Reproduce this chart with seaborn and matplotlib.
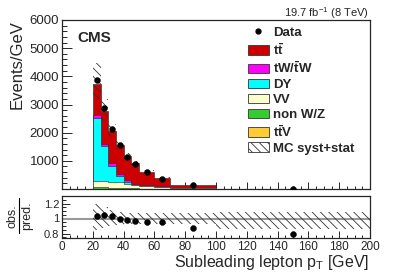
#!/usr/bin/env python3
import numpy as np
import pandas as pd
import matplotlib
matplotlib.use("Agg")
import matplotlib.pyplot as plt
from matplotlib.patches import Patch
from matplotlib.lines import Line2D
from matplotlib.ticker import MultipleLocator, FixedLocator
import seaborn as sns

sns.set_style("ticks")
plt.rcParams["font.family"] = ["Liberation Sans", "DejaVu Sans"]
plt.rcParams["mathtext.fontset"] = "custom"
plt.rcParams["mathtext.rm"] = "Liberation Sans"
plt.rcParams["mathtext.it"] = "Liberation Sans:italic"
plt.rcParams["mathtext.bf"] = "Liberation Sans:bold"
plt.rcParams["hatch.linewidth"] = 0.6

# bins of subleading lepton pT [GeV]
bin_edges = [20, 25, 30, 35, 40, 45, 50, 60, 70, 100, 200]

# predicted Events/GeV per bin (stack order: bottom -> top)
mc_ttv = [5, 5, 4, 4, 3, 3, 2, 2, 1, 0.1]
mc_nonwz = [60, 50, 40, 30, 25, 20, 15, 10, 4, 0.3]
mc_vv = [225, 220, 200, 200, 150, 105, 75, 58, 25, 1.0]
mc_dy = [2240, 1245, 585, 245, 82, 12, 8, 5, 2, 0.1]
mc_tw = [95, 80, 90, 70, 70, 50, 35, 25, 10, 0.5]
mc_tt = [1120, 1155, 1130, 1010, 845, 730, 485, 288, 103, 8]

# observed Events/GeV
data_obs = [3870, 2870, 2130, 1545, 1150, 890, 590, 372, 127, 7.9]

# MC syst+stat band, relative to prediction
band_up = [1.19, 1.16, 1.12, 1.09, 1.08, 1.08, 1.08, 1.08, 1.08, 1.09]
band_dn = [0.85, 0.87, 0.90, 0.92, 0.93, 0.93, 0.93, 0.93, 0.93, 0.86]

labels = [r"$\mathbf{t\bar{t}}$", r"$\mathbf{tW/\bar{t}W}$", "DY", "VV", "non W/Z", r"$\mathbf{t\bar{t}V}$"]
colors = ["#cc0000", "#ff00ff", "#00ffff", "#ffffcc", "#33cc33", "#ffcc33"]

edges = np.array(bin_edges, dtype=float)
centers = 0.5 * (edges[:-1] + edges[1:])
stack_bottom_up = [mc_ttv, mc_nonwz, mc_vv, mc_dy, mc_tw, mc_tt]
stack_colors = colors[::-1]
total = np.sum(np.array(stack_bottom_up, dtype=float), axis=0)
ratio = np.array(data_obs) / total

W, H = 411, 279
fig = plt.figure(figsize=(W / 100, H / 100), dpi=100)
ax = fig.add_axes([62 / W, 1 - 189 / H, 308 / W, 169 / H])
rax = fig.add_axes([62 / W, 1 - 238 / H, 308 / W, 42 / H])

# stacked histogram: draw cumulative layers from the top down
cum = np.zeros(len(centers))
layers = []
for vals, col in zip(stack_bottom_up, stack_colors):
    cum = cum + np.array(vals, dtype=float)
    layers.append((cum.copy(), col))
for cvals, col in reversed(layers):
    d = pd.DataFrame({"pt": centers, "w": cvals})
    sns.histplot(data=d, x="pt", weights="w", bins=bin_edges, element="step", fill=True,
                 color=col, alpha=1, edgecolor="#222222", linewidth=0.4, ax=ax)

# uncertainty band
hi = total * np.array(band_up)
lo = total * np.array(band_dn)
ax.fill_between(edges, np.append(lo, lo[-1]), np.append(hi, hi[-1]), step="post",
                facecolor="none", edgecolor="#333333", hatch="\\\\\\\\", linewidth=0, zorder=4)

sns.scatterplot(x=centers, y=data_obs, color="black", s=18, edgecolor="black", zorder=6, ax=ax)

ax.set_xlim(0, 200)
ax.set_ylim(0, 6000)
ax.yaxis.set_major_locator(FixedLocator([1000, 2000, 3000, 4000, 5000, 6000]))
ax.yaxis.set_minor_locator(MultipleLocator(200))
ax.xaxis.set_major_locator(MultipleLocator(20))
ax.xaxis.set_minor_locator(MultipleLocator(5))
ax.tick_params(axis="x", which="both", direction="in", labelbottom=False)
ax.tick_params(axis="x", which="major", length=4.8, width=0.7)
ax.tick_params(axis="x", which="minor", length=2.4, width=0.7)
ax.tick_params(axis="y", which="major", direction="in", length=7, width=0.7, labelsize=9.5, pad=2)
ax.tick_params(axis="y", which="minor", direction="in", length=3.5, width=0.7)
ax.set_xlabel("")
ax.set_ylabel("")
for s in ax.spines.values():
    s.set_visible(True)
    s.set_linewidth(0.9)

ax.text(0.049, 0.935, "CMS", transform=ax.transAxes, fontsize=11, fontweight="bold", va="top", ha="left")
fig.text(369 / W, 1 - 13 / H, r"19.7 fb$^{-1}$ (8 TeV)", ha="right", va="center", fontsize=8)
fig.text(17 / W, 1 - 20 / H, "Events/GeV", rotation=90, ha="center", va="top", fontsize=12)

# legend
handles = [Line2D([], [], marker="o", color="black", linestyle="none", markersize=3.5)]
for lab, col in zip(labels, colors):
    handles.append(Patch(facecolor=col, edgecolor="#333333", linewidth=0.6))
handles.append(Patch(facecolor="white", edgecolor="#333333", hatch="\\\\\\\\", linewidth=0.6))
leg_labels = ["Data"] + labels + ["MC syst+stat"]
ax.legend(handles, leg_labels, loc="upper left", bbox_to_anchor=(241 / W, 1 - 20 / H),
          bbox_transform=fig.transFigure, frameon=False, borderpad=0,
          prop={"weight": "bold", "size": 9.5}, handlelength=1.6, handleheight=0.75,
          handletextpad=0.35, labelspacing=0.2)

# ratio panel
rax.axhline(1.0, color="#999999", linewidth=1.5, zorder=1)
rax.fill_between(edges, np.append(band_dn, band_dn[-1]), np.append(band_up, band_up[-1]), step="post",
                 facecolor="none", edgecolor="#333333", hatch="\\\\\\\\", linewidth=0, zorder=2)
sns.scatterplot(x=centers, y=ratio, color="black", s=18, edgecolor="black", zorder=6, ax=rax)
rax.set_xlim(0, 200)
rax.set_ylim(0.74, 1.3)
rax.yaxis.set_major_locator(FixedLocator([0.8, 1.0, 1.2]))
rax.set_yticklabels(["0.8", "1", "1.2"])
rax.yaxis.set_minor_locator(MultipleLocator(0.05))
rax.xaxis.set_major_locator(MultipleLocator(20))
rax.xaxis.set_minor_locator(MultipleLocator(5))
rax.tick_params(axis="x", which="major", direction="in", length=4.8, width=0.7, labelsize=8.5, pad=2)
rax.tick_params(axis="x", which="minor", direction="in", length=2.4, width=0.7)
rax.tick_params(axis="y", which="major", direction="in", length=6, width=0.7, labelsize=8, pad=2)
rax.tick_params(axis="y", which="minor", direction="in", length=3, width=0.7)
rax.set_xlabel("")
rax.set_ylabel("")
for s in rax.spines.values():
    s.set_visible(True)
    s.set_linewidth(0.9)

fig.text(369 / W, 1 - 267 / H, r"Subleading lepton p$_{\rm T}$ [GeV]", ha="right", va="baseline", fontsize=11.5)
fig.text(12 / W, 1 - 216 / H, "obs.", rotation=90, ha="center", va="center", fontsize=9)
fig.text(27 / W, 1 - 216 / H, "pred.", rotation=90, ha="center", va="center", fontsize=9)
fig.add_artist(Line2D([19 / W, 19 / W], [1 - 198 / H, 1 - 233 / H], color="black", linewidth=0.8))

fig.savefig("out.png", dpi=100)
